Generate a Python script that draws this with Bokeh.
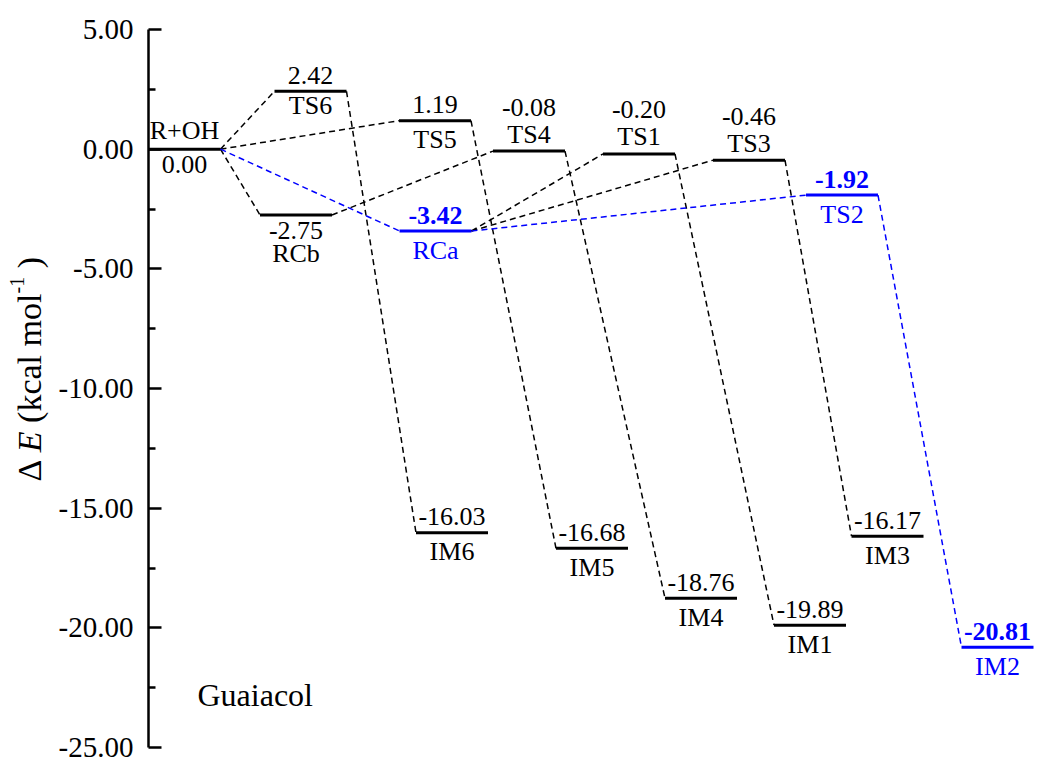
import math
from bokeh.plotting import figure
from bokeh.models import Range1d, FixedTicker, PrintfTickFormatter, Label, ColumnDataSource
from bokeh.core.properties import value
from bokeh.embed import file_html
from bokeh.resources import INLINE

# ---------------- data ----------------
names = ["R+OH", "TS6", "RCb", "TS5", "RCa", "IM6", "TS4", "IM5",
         "TS1", "IM4", "TS3", "IM1", "TS2", "IM3", "IM2"]
energies = [0.00, 2.42, -2.75, 1.19, -3.42, -16.03, -0.08, -16.68,
            -0.20, -18.76, -0.46, -19.89, -1.92, -16.17, -20.81]
blue_states = ["RCa", "TS2", "IM2"]
links_black = [("R+OH", "TS6"), ("R+OH", "TS5"), ("R+OH", "RCb"),
               ("RCb", "TS4"), ("RCa", "TS1"), ("RCa", "TS3"),
               ("TS6", "IM6"), ("TS5", "IM5"), ("TS4", "IM4"),
               ("TS1", "IM1"), ("TS3", "IM3")]
links_blue = [("R+OH", "RCa"), ("RCa", "TS2"), ("TS2", "IM2")]
y_major = [-25, -20, -15, -10, -5, 0, 5]
y_minor = [-22.5, -17.5, -12.5, -7.5, -2.5, 2.5]
system_name = "Guaiacol"

# ---------------- layout (horizontal slots, label placement) ----------------
slot_center = [184, 310, 295.5, 434.5, 435, 451.5, 528.5, 591.5,
               638.5, 700.5, 748.5, 809.5, 841.5, 887, 997]
half_w = 36
label_mode = ["nb", "ab6", "bb", "ab", "ab", "ab", "aa", "ab",
              "aa", "ab", "aa", "ab", "ab", "ab", "ab"]
SH = -9
offsets = {"ab": (-7 + SH, 28 + SH), "ab6": (-7 + SH, 23 + SH), "aa": (-35 + SH, -8 + SH),
           "bb": (25 + SH, 48 + SH), "nb": (24 + SH, -10 + SH)}

BLUE = "#0000ff"
FONT = "'Liberation Serif', 'Times New Roman', 'DejaVu Serif', serif"

# y: 5 -> 29 px, -25 -> 747 px from top, canvas 764 tall
Y5, Y25 = 29, 747
ppu = (Y25 - Y5) / 30.0
y_top = 5 + Y5 / ppu
y_bot = -25 - (764 - Y25) / ppu

p = figure(width=1039, height=764, x_range=Range1d(0, 1039), y_range=Range1d(y_bot, y_top),
           output_backend="svg", toolbar_location=None, x_axis_type=None,
           min_border_left=0, min_border_right=0, min_border_top=0, min_border_bottom=0)
p.outline_line_color = None
p.ygrid.visible = False
p.background_fill_color = "white"
p.border_fill_color = "white"

ax = p.yaxis[0]
ax.fixed_location = 148
ax.bounds = (-25, 5)
ax.ticker = FixedTicker(ticks=y_major, minor_ticks=y_minor)
ax.formatter = PrintfTickFormatter(format="%.2f")
ax.axis_line_width = 2.5
ax.axis_line_color = "black"
ax.major_tick_line_width = 2.5
ax.minor_tick_line_width = 2.5
ax.major_tick_in = 13
ax.major_tick_out = 0
ax.minor_tick_in = 7
ax.minor_tick_out = 0
ax.major_label_standoff = 15
ax.major_label_text_font = FONT
ax.major_label_text_font_size = "29px"
ax.major_label_text_color = "black"

idx = {n: i for i, n in enumerate(names)}
colors = [BLUE if n in blue_states else "black" for n in names]

# levels
lev = ColumnDataSource(dict(
    x0=[c - half_w for c in slot_center], x1=[c + half_w for c in slot_center],
    y=energies, color=colors))
p.segment(x0="x0", y0="y", x1="x1", y1="y", color="color", line_width=3, source=lev)

# connectors
def add_links(links, color):
    x0 = [slot_center[idx[a]] + half_w for a, b in links]
    y0 = [energies[idx[a]] for a, b in links]
    x1 = [slot_center[idx[b]] - half_w for a, b in links]
    y1 = [energies[idx[b]] for a, b in links]
    p.segment(x0=x0, y0=y0, x1=x1, y1=y1, line_color=color, line_width=1.5,
              line_dash="6 4")

add_links(links_black, "black")
add_links(links_blue, BLUE)

# labels
src = ColumnDataSource(dict(
    x=slot_center, y=energies, color=colors,
    etext=["%.2f" % e for e in energies], ntext=names,
    eoff=[offsets[m][0] for m in label_mode], noff=[offsets[m][1] for m in label_mode],
    estyle=["bold" if n in blue_states else "normal" for n in names]))
p.text(x="x", y="y", text="etext", y_offset="eoff", text_color="color",
       text_font_style="estyle", text_font=value(FONT), text_font_size=value("26px"),
       text_align="center", text_baseline="alphabetic", source=src)
p.text(x="x", y="y", text="ntext", y_offset="noff", text_color="color",
       text_font=value(FONT), text_font_size=value("26px"),
       text_align="center", text_baseline="alphabetic", source=src)

guaiacol_y = 5 - (703 - Y5 - 9) / ppu
p.add_layout(Label(x=197, y=guaiacol_y, text=system_name, text_font=FONT, text_color="black",
                   text_font_size="32px", text_align="left", text_baseline="alphabetic"))

# y-axis title built from pieces (rotated); screen units relative to frame bottom-left
fs = 34
pieces = [("\u0394", "normal", fs, 0, 0.612 + 0.25),
          ("E", "italic", fs, 0, 0.611 + 0.25),
          ("(kcal", "normal", fs, 0, 2.0 + 0.25),
          ("mol", "normal", fs, 0, 1.556),
          ("-1", "normal", 20, -13, 0.833 * 20 / fs + 0.25),
          (")", "normal", fs, 0, 0.333)]
base_x = 29
ypos = 764 - 481
for txt, style, size, dx, w in pieces:
    p.add_layout(Label(x=base_x + dx, y=ypos, x_units="screen", y_units="screen",
                       text=txt, angle=math.pi / 2, text_font=FONT, text_color="black",
                       text_font_style=style, text_font_size="%dpx" % size,
                       text_align="left", text_baseline="alphabetic"))
    ypos += w * fs

open("out.html", "w").write(file_html(p, INLINE))
